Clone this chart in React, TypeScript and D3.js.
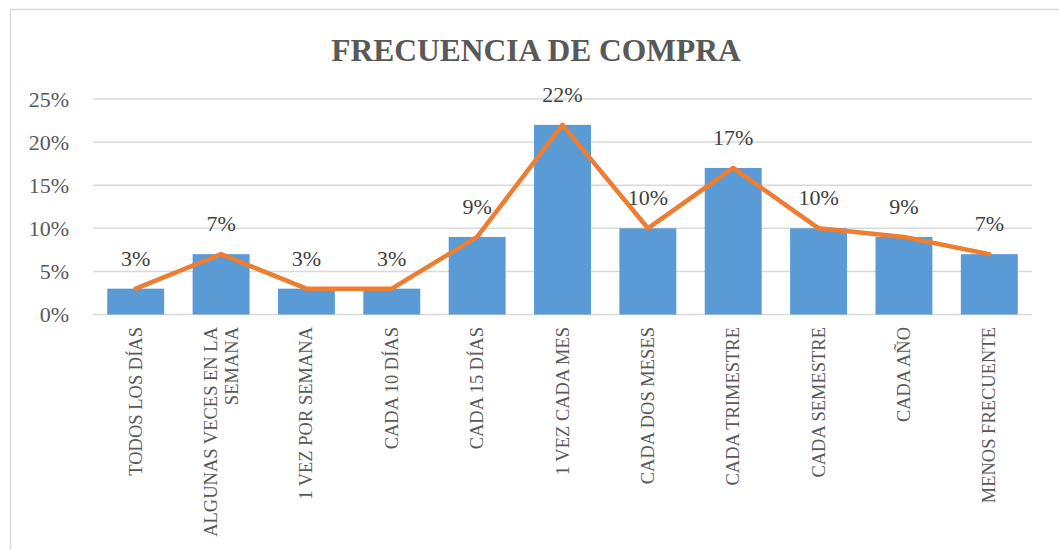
import React, { useRef, useEffect } from 'react';
import * as d3 from 'd3';

const categories: string[][] = [
  ['TODOS LOS DÍAS'],
  ['ALGUNAS VECES EN LA', 'SEMANA'],
  ['1 VEZ POR SEMANA'],
  ['CADA 10 DÍAS'],
  ['CADA 15 DÍAS'],
  ['1 VEZ CADA MES'],
  ['CADA DOS MESES'],
  ['CADA TRIMESTRE'],
  ['CADA SEMESTRE'],
  ['CADA AÑO'],
  ['MENOS FRECUENTE'],
];
const values: number[] = [0.03, 0.07, 0.03, 0.03, 0.09, 0.22, 0.1, 0.17, 0.1, 0.09, 0.07];
const yTicks: number[] = [0, 0.05, 0.1, 0.15, 0.2, 0.25];

const width = 1059;
const height = 550;
const font = '"Liberation Serif", "Times New Roman", serif';

const App: React.FC = () => {
  const svgRef = useRef<SVGSVGElement | null>(null);

  useEffect(() => {
    const svg = d3.select(svgRef.current);
    svg.selectAll('*').remove();

    const keys = categories.map(c => c.join(' '));
    const x = d3.scaleBand<string>().domain(keys).range([93, 1032]).paddingInner(0.333).paddingOuter(0.1667);
    const y = d3.scaleLinear().domain([0, 0.25]).range([314.5, 99]);

    // chart frame
    svg.append('rect')
      .attr('x', 10.5).attr('y', 9.5)
      .attr('width', 1100).attr('height', 600)
      .attr('fill', 'white').attr('stroke', '#d9d9d9').attr('stroke-width', 1.5);

    svg.append('text')
      .attr('x', 536).attr('y', 61)
      .attr('text-anchor', 'middle')
      .attr('font-family', font).attr('font-weight', 'bold').attr('font-size', 31.5)
      .attr('fill', '#595959')
      .text('FRECUENCIA DE COMPRA');

    // gridlines + y labels
    yTicks.forEach(t => {
      svg.append('line')
        .attr('x1', 93).attr('x2', 1032)
        .attr('y1', y(t)).attr('y2', y(t))
        .attr('stroke', '#d9d9d9').attr('stroke-width', 1.5);
      svg.append('text')
        .attr('x', 69).attr('y', y(t) + 7.5)
        .attr('text-anchor', 'end')
        .attr('font-family', font).attr('font-size', 22)
        .attr('fill', '#595959')
        .text(d3.format('.0%')(t));
    });

    // bars
    svg.selectAll('.bar')
      .data(values)
      .enter()
      .append('rect')
      .attr('class', 'bar')
      .attr('x', (d, i) => x(keys[i])!)
      .attr('y', d => y(d))
      .attr('width', x.bandwidth())
      .attr('height', d => y(0) - y(d))
      .attr('fill', '#5b9bd5');

    // line
    const line = d3.line<number>()
      .x((d, i) => x(keys[i])! + x.bandwidth() / 2)
      .y(d => y(d));
    svg.append('path')
      .datum(values)
      .attr('d', line)
      .attr('fill', 'none')
      .attr('stroke', '#ed7d31')
      .attr('stroke-width', 4.5)
      .attr('stroke-linejoin', 'round')
      .attr('stroke-linecap', 'round');

    // data labels
    svg.selectAll('.label')
      .data(values)
      .enter()
      .append('text')
      .attr('x', (d, i) => x(keys[i])! + x.bandwidth() / 2)
      .attr('y', d => y(d) - 23)
      .attr('text-anchor', 'middle')
      .attr('font-family', font).attr('font-size', 22)
      .attr('fill', '#404040')
      .text(d => d3.format('.0%')(d));

    // category labels (rotated)
    categories.forEach((lines, i) => {
      const cx = x(keys[i])! + x.bandwidth() / 2;
      const n = lines.length;
      lines.forEach((ln, j) => {
        const off = (j - (n - 1) / 2) * 21;
        svg.append('text')
          .attr('transform', `translate(${cx + off + 6},327) rotate(-90)`)
          .attr('text-anchor', 'end')
          .attr('font-family', font).attr('font-size', 18.5)
          .attr('fill', '#595959')
          .text(ln);
      });
    });
  }, []);

  return (
    <svg
      ref={svgRef}
      width={width}
      height={height}
      style={{ position: 'absolute', left: 0, top: 0, background: 'white' }}
    ></svg>
  );
};

export default App;
